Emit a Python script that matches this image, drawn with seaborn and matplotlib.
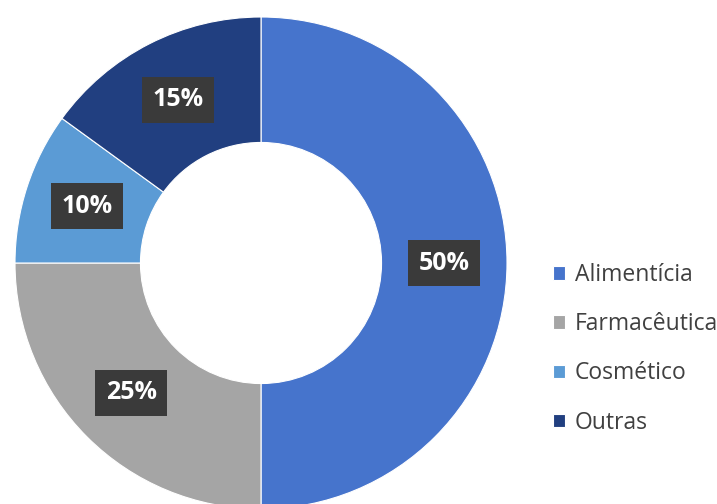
import matplotlib
matplotlib.use("Agg")
import matplotlib.pyplot as plt
import numpy as np
import seaborn as sns

# Market share by industry segment
categories = ["Alimentícia", "Farmacêutica", "Cosmético", "Outras"]
shares = [50, 25, 10, 15]
colors = ["#4674CC", "#A5A5A5", "#5B9BD5", "#213F80"]

sns.set_theme(style="white")
plt.rcParams["font.family"] = ["Open Sans", "DejaVu Sans"]

fig = plt.figure(figsize=(7.17, 5.04), dpi=100)
fig.patch.set_facecolor("white")

# Donut axes: centre near (261, 263) px, radius ~246 px
W, H = 717, 504
cx, cy, r = 261, 263, 246
ax = fig.add_axes([(cx - r) / W, (H - cy - r) / H, 2 * r / W, 2 * r / H])

ring = 0.51
wedges, _ = ax.pie(
    shares,
    colors=colors,
    startangle=90,
    counterclock=False,
    radius=1.0,
    wedgeprops=dict(width=ring, edgecolor="white", linewidth=0.8),
)
ax.set_xlim(-1, 1)
ax.set_ylim(-1, 1)
ax.set_aspect("equal")
ax.axis("off")

# Value labels on dark boxes at the ring's mid-radius
mid_r = 1.0 - ring / 2
for w, v in zip(wedges, shares):
    ang = np.deg2rad((w.theta1 + w.theta2) / 2)
    x, y = mid_r * np.cos(ang), mid_r * np.sin(ang)
    ax.text(
        x, y, f"{v}%",
        ha="center", va="center",
        color="white", fontsize=18, fontweight="bold",
        bbox=dict(boxstyle="square,pad=0.42", facecolor="#3A3A3A", edgecolor="none"),
    )

# Legend on the right
leg = fig.legend(
    wedges, categories,
    loc="upper left",
    bbox_to_anchor=(553 / W, 1 - 263 / H),
    frameon=False,
    fontsize=16.5,
    handlelength=0.52,
    handleheight=0.52,
    handletextpad=0.44,
    labelspacing=1.1,
    borderpad=0,
    borderaxespad=0,
)
for t in leg.get_texts():
    t.set_color("#404040")

fig.savefig("out.png", dpi=100, facecolor="white")
